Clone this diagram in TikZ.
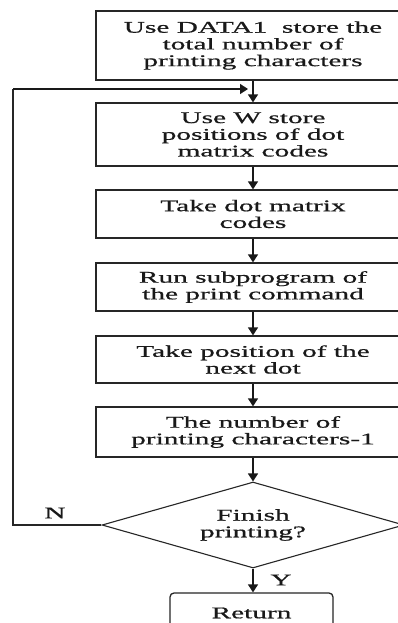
\documentclass[tikz,border=0pt]{standalone}
\usepackage{fontspec}
\setmainfont{Liberation Serif}[FakeStretch=1.8,FakeBold=0.7]
\usetikzlibrary{shapes.geometric,arrows.meta}
\begin{document}
\begin{tikzpicture}[x=1pt,y=-1pt,
  txt/.style={font=\fontsize{16.3}{16.7}\selectfont, text=black!90},
  proc/.style={txt, draw=black!85, line width=1.3pt, minimum width=314pt,
    align=center, inner sep=0pt},
  dec/.style={txt, draw=black!85, line width=1.1pt, shape=diamond, aspect=3.5,
    minimum width=302pt, minimum height=86pt, inner sep=0pt, align=center},
  term/.style={txt, draw=black!85, line width=1.3pt, rounded corners=4pt,
    minimum width=163pt, minimum height=40pt, inner sep=0pt, align=center},
  flow/.style={line width=1.4pt, draw=black!90,
    -{Triangle[length=8pt,width=10pt]}},
  wire/.style={line width=1.4pt, draw=black!85}]
\clip (0,0) rectangle (398,623);
\fill[white] (0,0) rectangle (398,623);

% process boxes
\node[proc, minimum height=69pt] (b1) at (253,45.5)
  {Use DATA1\ \ store the\\total number of\\printing characters};
\node[proc, minimum height=63pt] (b2) at (253,134.5)
  {Use W store\\positions of dot\\matrix codes};
\node[proc, minimum height=48pt] (b3) at (253,214)
  {Take dot matrix\\codes};
\node[proc, minimum height=48pt] (b4) at (253,287)
  {Run subprogram of\\the print command};
\node[proc, minimum height=47pt] (b5) at (253,359.5)
  {Take position of the\\next dot};
\node[proc, minimum height=50pt] (b6) at (253,432)
  {The number of\\printing characters-1};

% decision and terminal
\node[dec] (d) at (253,525) {Finish\\printing?};
\node[term] (ret) at (251.5,613) {Return};

% main flow
\draw[flow] (b1) -- (b2);
\draw[flow] (b2) -- (b3);
\draw[flow] (b3) -- (b4);
\draw[flow] (b4) -- (b5);
\draw[flow] (b5) -- (b6);
\draw[flow] (b6) -- (d);
\draw[flow] (d.south) -- (d.south |- ret.north);

% loop back on N
\coordinate (lb) at (13,525);
\coordinate (lt) at (13,89);
\coordinate (le) at (248,89);
\draw[wire] (d.west) -- (lb) -- (lt);
\draw[flow] (lt) -- (le);

% branch labels
\node[txt] (nlab) at (55,513) {N};
\node[txt] (ylab) at (281,580) {Y};
\end{tikzpicture}
\end{document}
